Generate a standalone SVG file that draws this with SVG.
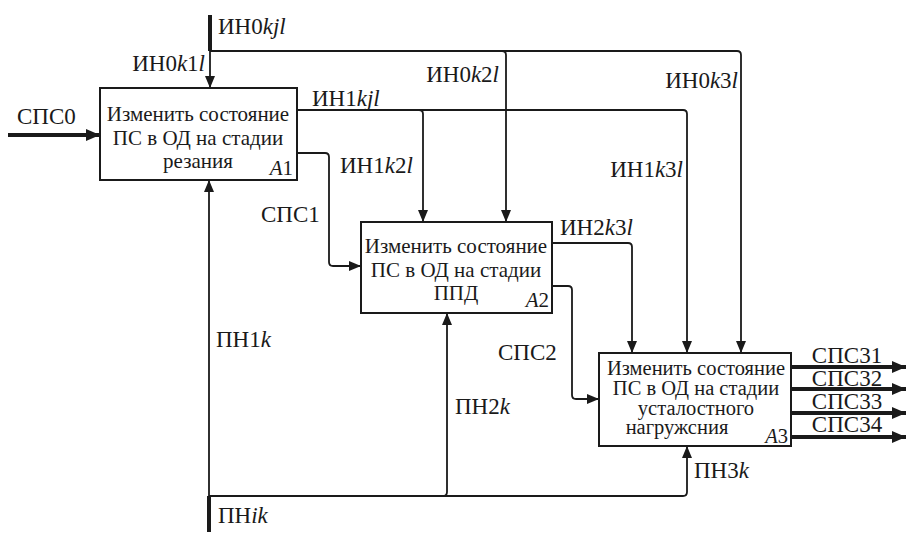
<svg xmlns="http://www.w3.org/2000/svg" width="906" height="534" viewBox="0 0 906 534">
<style>
text{font-family:"Liberation Serif","Times New Roman",serif;font-size:23px;fill:#1a1a1a}
.b{font-size:21px}
.b3{font-size:20.5px}
.c{text-anchor:middle}
.e{text-anchor:end}
.i{font-style:italic}
.box{fill:#fff;stroke:#1a1a1a;stroke-width:2}
.ln{fill:none;stroke:#1a1a1a;stroke-width:1.8}
.tk{fill:none;stroke:#1a1a1a;stroke-width:4}
</style>
<defs>
<marker id="a" markerUnits="userSpaceOnUse" markerWidth="12" markerHeight="10" refX="12" refY="5" orient="auto"><path d="M0,0L12,5L0,10z" fill="#1a1a1a"/></marker>
<marker id="b" markerUnits="userSpaceOnUse" markerWidth="14" markerHeight="12" refX="14" refY="6" orient="auto"><path d="M0,0L14,6L0,12z" fill="#1a1a1a"/></marker>
</defs>
<g id="connectors">
<path class="tk" d="M210,15V51"/>
<path class="ln" d="M210,51V88" marker-end="url(#a)"/>
<path class="ln" d="M210,51H737Q741,51 741,55V353" marker-end="url(#a)"/>
<path class="ln" d="M502,51Q506,51 506,55V222" marker-end="url(#a)"/>
<path class="ln" d="M297,110H683Q687,110 687,114V353" marker-end="url(#a)"/>
<path class="ln" d="M419,110Q423,110 423,114V222" marker-end="url(#a)"/>
<path class="ln" d="M297,153H325Q329,153 329,157V262Q329,266 333,266H361" marker-end="url(#a)"/>
<path class="ln" d="M552,243H628Q632,243 632,247V353" marker-end="url(#a)"/>
<path class="ln" d="M552,286H568Q572,286 572,290V395Q572,399 576,399H599" marker-end="url(#a)"/>
<path class="tk" d="M8,135H100" marker-end="url(#b)"/>
<path class="tk" d="M791,367H906" marker-end="url(#b)"/>
<path class="tk" d="M791,389H906" marker-end="url(#b)"/>
<path class="tk" d="M791,413H906" marker-end="url(#b)"/>
<path class="tk" d="M791,437H906" marker-end="url(#b)"/>
<path class="tk" d="M209,532V496"/>
<path class="ln" d="M209,497V180" marker-end="url(#a)"/>
<path class="ln" d="M209,496H443Q447,496 447,492V313" marker-end="url(#a)"/>
<path class="ln" d="M443,496H683Q687,496 687,492V446" marker-end="url(#a)"/>
</g>
<g id="labels">
<text x="17" y="124">СПС0</text>
<text x="218" y="34">ИН0<tspan class="i">kjl</tspan></text>
<text x="205" y="71" class="e">ИН0<tspan class="i">k</tspan>1<tspan class="i">l</tspan></text>
<text x="312" y="106">ИН1<tspan class="i">kjl</tspan></text>
<text x="499" y="82" class="e">ИН0<tspan class="i">k</tspan>2<tspan class="i">l</tspan></text>
<text x="340" y="173">ИН1<tspan class="i">k</tspan>2<tspan class="i">l</tspan></text>
<text x="738" y="88" class="e">ИН0<tspan class="i">k</tspan>3<tspan class="i">l</tspan></text>
<text x="683" y="177" class="e">ИН1<tspan class="i">k</tspan>3<tspan class="i">l</tspan></text>
<text x="261" y="222">СПС1</text>
<text x="560" y="235">ИН2<tspan class="i">k</tspan>3<tspan class="i">l</tspan></text>
<text x="498" y="360">СПС2</text>
<text x="216" y="347">ПН1<tspan class="i">k</tspan></text>
<text x="455" y="414">ПН2<tspan class="i">k</tspan></text>
<text x="694" y="478">ПН3<tspan class="i">k</tspan></text>
<text x="218" y="523">ПН<tspan class="i">ik</tspan></text>
<text x="847" y="363" class="c">СПС31</text>
<text x="847" y="386" class="c">СПС32</text>
<text x="847" y="409" class="c">СПС33</text>
<text x="847" y="432" class="c">СПС34</text>
</g>
<g id="A1">
<rect class="box" x="100" y="88" width="197" height="92"/>
<text x="198" y="121" class="c b">Изменить состояние</text>
<text x="198" y="145" class="c b">ПС в ОД на стадии</text>
<text x="198" y="168" class="c b">резания</text>
<text x="293" y="175" class="e b"><tspan class="i">A</tspan>1</text>
</g>
<g id="A2">
<rect class="box" x="361" y="222" width="191" height="91"/>
<text x="456" y="253" class="c b">Изменить состояние</text>
<text x="456" y="277" class="c b">ПС в ОД на стадии</text>
<text x="456" y="300" class="c b">ППД</text>
<text x="549" y="307" class="e b"><tspan class="i">A</tspan>2</text>
</g>
<g id="A3">
<rect class="box" x="599" y="353" width="192" height="93"/>
<text x="696" y="375" class="c b3">Изменить состояние</text>
<text x="696" y="395" class="c b3">ПС в ОД на стадии</text>
<text x="696" y="415" class="c b3">усталостного</text>
<text x="677" y="434" class="c b3">нагружсния</text>
<text x="788" y="443" class="e b3"><tspan class="i">A</tspan>3</text>
</g>
</svg>
